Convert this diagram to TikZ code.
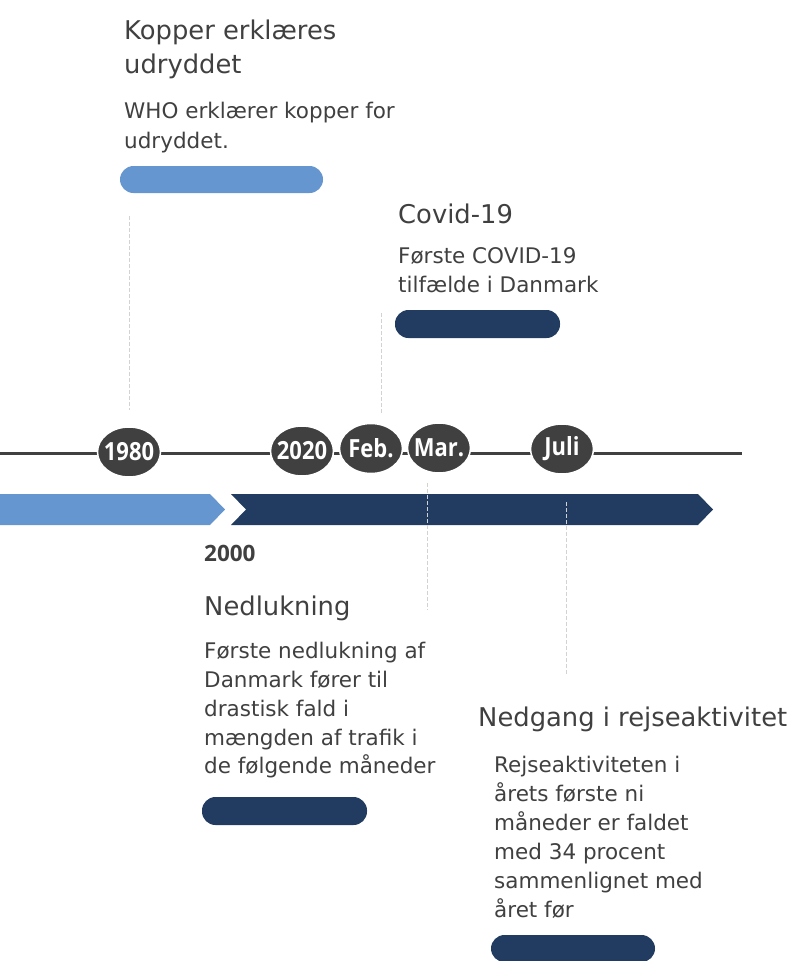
\documentclass[tikz,border=0pt]{standalone}
\usepackage{fontspec}
\usepackage{graphicx}
\setmainfont{Open Sans}
\newfontfamily\dejav{DejaVu Sans}
\usetikzlibrary{shapes.geometric}
\definecolor{tgray}{HTML}{404040}
\definecolor{lblue}{HTML}{6696CF}
\definecolor{dblue}{HTML}{213C60}
\definecolor{dashgray}{HTML}{D2D2D2}
\newcommand{\cnd}[1]{\scalebox{0.88}[1]{#1}}
\begin{document}
\begin{tikzpicture}[x=1pt,y=-1pt,
  ttl/.style={anchor=base west, inner sep=0, text=tgray, font=\dejav\fontsize{25.8}{26}\selectfont},
  dsc/.style={anchor=base west, inner sep=0, text=tgray, font=\dejav\fontsize{21.5}{22}\selectfont},
  yr/.style={ellipse, fill=tgray, draw=white, line width=1.5pt, minimum width=63pt, minimum height=50pt, inner sep=0},
  yrlbl/.style={inner sep=0, text=white, font=\bfseries\fontsize{25}{25}\selectfont},
  pill/.style={rounded corners=13.5pt},
  dashline/.style={draw=dashgray, line width=1pt, dash pattern=on 4pt off 2pt}
]
\useasboundingbox (0,0) rectangle (790,961);
% bands
\fill[lblue] (0,494) -- (210,494) -- (225,509.5) -- (210,525) -- (0,525) -- cycle;
\fill[dblue] (231,494) -- (698,494) -- (713,509.5) -- (698,525) -- (231,525) -- (246,509.5) -- cycle;
% dashed connectors
\coordinate (d1a) at (129,216); \coordinate (d1b) at (129,410);
\coordinate (d2a) at (381.5,313); \coordinate (d2b) at (381.5,413);
\coordinate (d3a) at (427,483); \coordinate (d3b) at (427,610);
\coordinate (d4a) at (566,502); \coordinate (d4b) at (566,675);
\draw[dashline] (d1a) -- (d1b);
\draw[dashline] (d2a) -- (d2b);
\draw[dashline] (d3a) -- (d3b);
\draw[dashline] (d4a) -- (d4b);
% timeline
\coordinate (tl0) at (0,453); \coordinate (tl1) at (742,453);
\draw[tgray, line width=3pt] (tl0) -- (tl1);
\node[yr, label={[yrlbl]center:\cnd{1980}}] (y1980) at (129,452) {};
\node[yr, label={[yrlbl]center:\cnd{2020}}] (y2020) at (302,451) {};
\node[yr, label={[yrlbl]center:\cnd{Feb.}}] (yfeb) at (371,448.5) {};
\node[yr, label={[yrlbl]center:\cnd{Mar.}}] (ymar) at (439,448) {};
\node[yr, label={[yrlbl]center:\cnd{Juli}}] (yjuli) at (562,449) {};
% pills
\fill[lblue, pill] (120,166) rectangle (323,193);
\fill[dblue, pill] (395,310) rectangle (560,338);
\fill[dblue, pill] (202,797) rectangle (367,825);
\fill[dblue, pill] (491,935) rectangle (655,962);
% texts: Kopper
\node[ttl] (kt1) at (124,39) {Kopper erklæres};
\node[ttl] (kt2) at (124,73) {udryddet};
\node[dsc] (kd1) at (124,118) {WHO erklærer kopper for};
\node[dsc] (kd2) at (124,148) {udryddet.};
% Covid
\node[ttl] (ct1) at (398,223) {Covid-19};
\node[dsc] (cd1) at (398,263) {Første COVID-19};
\node[dsc] (cd2) at (398,292) {tilfælde i Danmark};
% 2000
\node[anchor=base west, inner sep=0, text=tgray, font=\bfseries\fontsize{22.5}{23}\selectfont] (y2000) at (204,561) {2000};
% Nedlukning
\node[ttl] (nt1) at (204,615) {Nedlukning};
\node[dsc] (nd1) at (204,658) {Første nedlukning af};
\node[dsc] (nd2) at (204,687) {Danmark fører til};
\node[dsc] (nd3) at (204,716) {drastisk fald i};
\node[dsc] (nd4) at (204,745) {mængden af trafik i};
\node[dsc] (nd5) at (204,773) {de følgende måneder};
% Nedgang
\node[ttl] (gt1) at (478,726) {Nedgang i rejseaktivitet};
\node[dsc] (gd1) at (494,772) {Rejseaktiviteten i};
\node[dsc] (gd2) at (494,801) {årets første ni};
\node[dsc] (gd3) at (494,830) {måneder er faldet};
\node[dsc] (gd4) at (494,859) {med 34 procent};
\node[dsc] (gd5) at (494,888) {sammenlignet med};
\node[dsc] (gd6) at (494,917) {året før};
\end{tikzpicture}
\end{document}
